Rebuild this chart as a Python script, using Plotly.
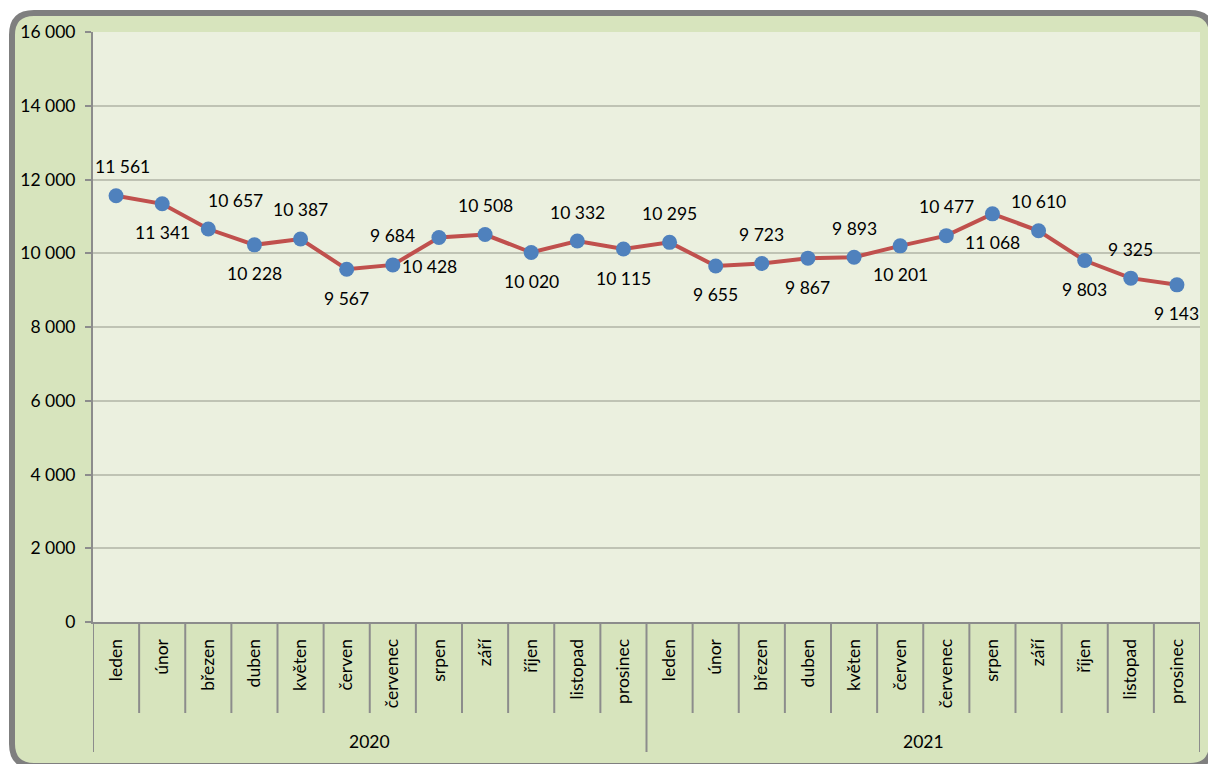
import plotly.graph_objects as go

months = ["leden", "únor", "březen", "duben", "květen", "červen", "červenec",
          "srpen", "září", "říjen", "listopad", "prosinec"]
years = ["2020", "2021"]
values = [11561, 11341, 10657, 10228, 10387, 9567, 9684, 10428, 10508, 10020, 10332, 10115,
          10295, 9655, 9723, 9867, 9893, 10201, 10477, 11068, 10610, 9803, 9325, 9143]
# label placement: 1 = above, -1 = below
label_side = [1, -1, 1, -1, 1, -1, 1, -1, 1, -1, 1, -1,
              1, -1, 1, -1, 1, -1, 1, -1, 1, -1, 1, -1]
label_dx = {0: 6, 2: 27, 7: -9}

x_idx = list(range(len(values)))
tick_text = months * len(years)

FONT = "Lato"
FS = 17.5
W, H = 1208, 764
L, R, T, B = 93, 8, 32, 142
PW, PH = W - L - R, H - T - B


def px(x):
    return (x - L) / PW


def py(y):
    return (H - B - y) / PH


def fmt(v):
    return f"{v:,}".replace(",", " ")


fig = go.Figure()
fig.add_trace(go.Scatter(
    x=x_idx, y=values, mode="lines+markers",
    line=dict(color="#C0504D", width=4),
    marker=dict(color="#4F81BD", size=15),
    hoverinfo="skip", showlegend=False,
))

annotations = []
for i, v in enumerate(values):
    annotations.append(dict(
        x=i, y=v, xref="x", yref="y", text=fmt(v), showarrow=False,
        yshift=29 * label_side[i], xshift=label_dx.get(i, 0),
        font=dict(family=FONT, size=FS, color="#000000"),
    ))
for k, yr in enumerate(years):
    annotations.append(dict(
        x=k * 12 + 5.5, y=py(742), xref="x", yref="paper", text=yr,
        showarrow=False, yanchor="middle",
        font=dict(family=FONT, size=FS, color="#000000"),
    ))

# rounded border
bl, bt, br, bb, r = 12, 13, 1212, 766, 22


def pt(x, y):
    return f"{px(x):.5f},{py(y):.5f}"


path = (f"M {pt(bl + r, bt)} L {pt(br - r, bt)} Q {pt(br, bt)} {pt(br, bt + r)} "
        f"L {pt(br, bb - r)} Q {pt(br, bb)} {pt(br - r, bb)} "
        f"L {pt(bl + r, bb)} Q {pt(bl, bb)} {pt(bl, bb - r)} "
        f"L {pt(bl, bt + r)} Q {pt(bl, bt)} {pt(bl + r, bt)} Z")

shapes = [
    dict(type="path", path=path, xref="paper", yref="paper", layer="below",
         fillcolor="#D7E4BD", line=dict(color="#7F7F7F", width=6)),
    dict(type="rect", x0=0, x1=1, y0=0, y1=1, xref="paper", yref="paper",
         layer="below", fillcolor="#EBF0DF", line=dict(width=0)),
]
n = len(values)
for b in range(n + 1):
    long = (b % 12 == 0)
    shapes.append(dict(
        type="line", xref="x", yref="paper", x0=b - 0.5, x1=b - 0.5,
        y0=0, y1=py(752 if long else 713),
        line=dict(color="#8C8C8C", width=2), layer="above",
    ))

fig.update_layout(
    width=W, height=H,
    margin=dict(l=L, r=R, t=T, b=B),
    paper_bgcolor="#FFFFFF",
    plot_bgcolor="rgba(0,0,0,0)",
    separators=", ",
    font=dict(family=FONT, size=FS, color="#000000"),
    shapes=shapes,
    annotations=annotations,
    xaxis=dict(
        range=[-0.5, n - 0.5], tickmode="array", tickvals=x_idx, ticktext=tick_text,
        tickangle=-90, showgrid=False, zeroline=False, showline=True,
        linecolor="#8C8C8C", linewidth=2, ticks="", ticklabelstandoff=8,
        tickfont=dict(family=FONT, size=FS, color="#000000"), fixedrange=True,
    ),
    yaxis=dict(
        range=[0, 16000], dtick=2000, tick0=0, tickformat=",d",
        showgrid=True, gridcolor="#BFC3B4", gridwidth=1.5, zeroline=False,
        showline=True, linecolor="#8C8C8C", linewidth=2,
        ticks="outside", ticklen=6, tickcolor="#8C8C8C", tickwidth=2,
        ticklabelstandoff=6,
        tickfont=dict(family=FONT, size=FS, color="#000000"), fixedrange=True,
    ),
)

fig.write_html(
    "out.html",
    config={"displayModeBar": False},
    post_script="document.body.style.margin='0';document.body.style.overflow='hidden';",
)
